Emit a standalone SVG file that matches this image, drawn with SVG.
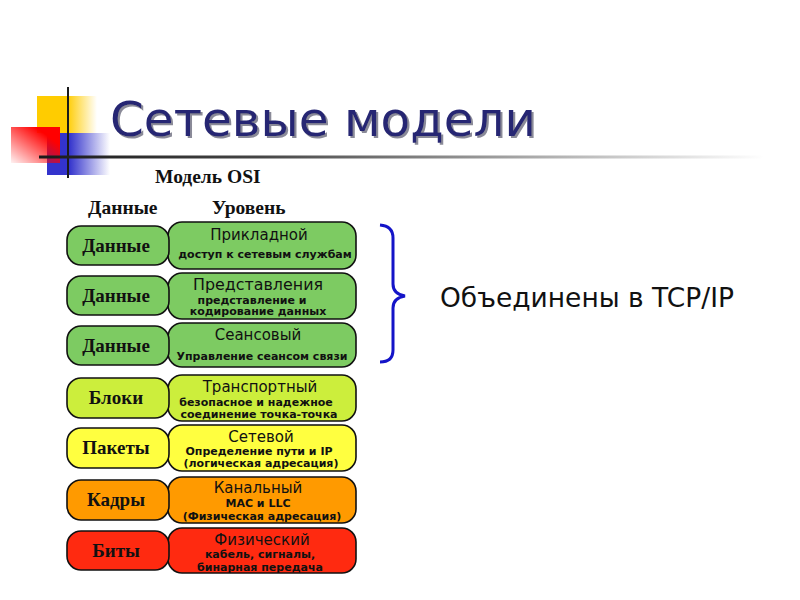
<svg xmlns="http://www.w3.org/2000/svg" width="800" height="600" viewBox="0 0 800 600">
<defs>
<linearGradient id="gy" x1="0" y1="0" x2="1" y2="0"><stop offset="0" stop-color="#FFCC00"/><stop offset="0.5" stop-color="#FFCC00"/><stop offset="1" stop-color="#FFCC00" stop-opacity="0"/></linearGradient>
<linearGradient id="gb" x1="0" y1="0" x2="1" y2="0"><stop offset="0" stop-color="#3333CC"/><stop offset="0.35" stop-color="#3333CC"/><stop offset="1" stop-color="#3333CC" stop-opacity="0"/></linearGradient>
<linearGradient id="gr" x1="1" y1="0" x2="0" y2="1"><stop offset="0" stop-color="#FF0000"/><stop offset="0.25" stop-color="#FF0000"/><stop offset="1" stop-color="#FF0000" stop-opacity="0.05"/></linearGradient>
<linearGradient id="gl" x1="0" y1="0" x2="1" y2="0"><stop offset="0" stop-color="#1a1a1a"/><stop offset="0.3" stop-color="#444"/><stop offset="1" stop-color="#444" stop-opacity="0"/></linearGradient>
<filter id="sh" x="-5%" y="-20%" width="110%" height="140%"><feDropShadow dx="2" dy="2" stdDeviation="0.6" flood-color="#8a8a98"/></filter>
</defs>
<style>
.box{stroke:#111;stroke-width:1.6}
.g{fill:#7DCB62}.yg{fill:#CCEE3C}.y{fill:#FFFF40}.o{fill:#FF9A00}.r{fill:#FF2A10}
.lab{font-family:"Liberation Serif",serif;font-weight:bold;font-size:19px;text-anchor:middle;fill:#111}
.hd{font-family:"Liberation Serif",serif;font-weight:bold;font-size:19.5px;fill:#111}
.t{font-family:"DejaVu Sans",sans-serif;font-size:15px;text-anchor:middle;fill:#111}
.s{font-family:"DejaVu Sans",sans-serif;font-weight:bold;font-size:11px;text-anchor:middle;fill:#111}
</style>
<rect width="800" height="600" fill="#fff"/>
<g id="decor">
<rect x="37" y="96" width="60" height="37" fill="url(#gy)"/>
<rect x="47" y="133" width="63" height="42" fill="url(#gb)"/>
<rect x="11" y="127" width="49" height="36" fill="url(#gr)"/>
<line x1="68" y1="87" x2="68" y2="178" stroke="#1a1a1a" stroke-width="2"/>
<rect x="39" y="155.5" width="725" height="3" fill="url(#gl)"/>
</g>
<g id="title">
<text x="110" y="136" font-family="DejaVu Sans,sans-serif" font-size="48.5" fill="#262673" filter="url(#sh)">Сетевые модели</text>
</g>
<g id="headers">
<text class="hd" x="155" y="183">Модель OSI</text>
<text class="hd" x="88" y="214">Данные</text>
<text class="hd" x="212" y="214">Уровень</text>
</g>
<g id="row1">
<rect class="box g" x="168" y="222" width="188" height="47" rx="14"/>
<rect class="box g" x="67" y="226" width="102" height="39" rx="14"/>
<text class="lab" x="116" y="252">Данные</text>
<text class="t" x="259" y="240">Прикладной</text>
<text class="s" x="265" y="258">доступ к сетевым службам</text>
</g>
<g id="row2">
<rect class="box g" x="168" y="273" width="188" height="46" rx="14"/>
<rect class="box g" x="67" y="276" width="102" height="39" rx="14"/>
<text class="lab" x="116" y="302">Данные</text>
<text class="t" x="258" y="290" font-size="16.5" textLength="130" lengthAdjust="spacingAndGlyphs">Представления</text>
<text class="s" x="252" y="303.5">представление и</text>
<text class="s" x="258" y="315">кодирование данных</text>
</g>
<g id="row3">
<rect class="box g" x="168" y="323" width="188" height="44" rx="14"/>
<rect class="box g" x="67" y="326" width="102" height="39" rx="14"/>
<text class="lab" x="116" y="352">Данные</text>
<text class="t" x="258" y="340">Сеансовый</text>
<text class="s" x="262" y="360">Управление сеансом связи</text>
</g>
<g id="row4">
<rect class="box yg" x="168" y="375" width="188" height="46" rx="14"/>
<rect class="box yg" x="67" y="378" width="102" height="40" rx="14"/>
<text class="lab" x="116" y="404">Блоки</text>
<text class="t" x="260" y="392">Транспортный</text>
<text class="s" x="256" y="406">безопасное и надежное</text>
<text class="s" x="259" y="418">соединение точка-точка</text>
</g>
<g id="row5">
<rect class="box y" x="168" y="425" width="188" height="46" rx="14"/>
<rect class="box y" x="67" y="428" width="102" height="40" rx="14"/>
<text class="lab" x="116" y="454">Пакеты</text>
<text class="t" x="261" y="442">Сетевой</text>
<text class="s" x="259" y="455">Определение пути и IP</text>
<text class="s" x="261" y="467">(логическая адресация)</text>
</g>
<g id="row6">
<rect class="box o" x="168" y="477" width="188" height="46" rx="14"/>
<rect class="box o" x="67" y="480" width="102" height="40" rx="14"/>
<text class="lab" x="116" y="506">Кадры</text>
<text class="t" x="258" y="493">Канальный</text>
<text class="s" x="258" y="507">MAC и LLC</text>
<text class="s" x="262" y="520">(Физическая адресация)</text>
</g>
<g id="row7">
<rect class="box r" x="168" y="528" width="188" height="45" rx="14"/>
<rect class="box r" x="67" y="531" width="102" height="39" rx="14"/>
<text class="lab" x="116" y="557">Биты</text>
<text class="t" x="262" y="545">Физический</text>
<text class="s" x="260" y="558">кабель, сигналы,</text>
<text class="s" x="260" y="571">бинарная передача</text>
</g>
<g id="connectors">
<path d="M380,225 Q393,226 393,238 L393,284 Q393,294 405,296 Q393,298 393,308 L393,350 Q393,362 380,362" fill="none" stroke="#1414C8" stroke-width="3"/>
</g>
<g id="tcpip">
<text x="440" y="307" font-family="DejaVu Sans,sans-serif" font-size="26.5" fill="#111">Объединены в TCP/IP</text>
</g>
</svg>
